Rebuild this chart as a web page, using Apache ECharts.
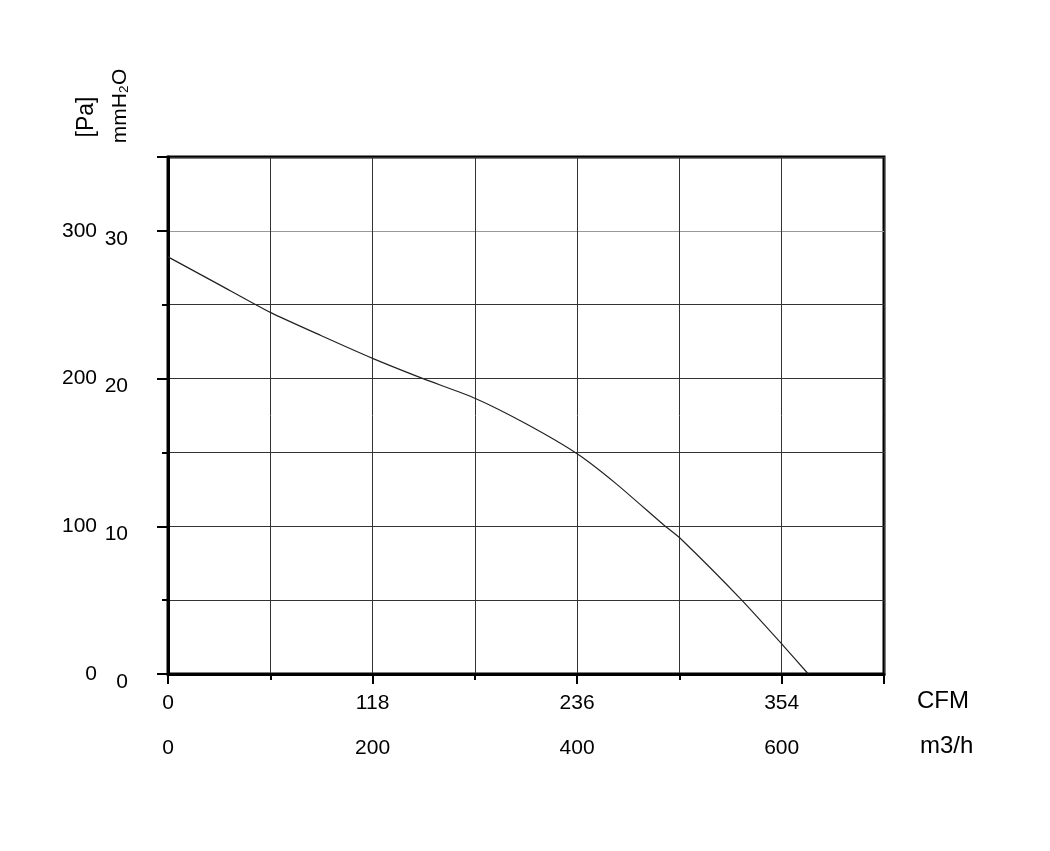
<!DOCTYPE html>
<html>
<head>
<meta charset="utf-8">
<script src="https://cdn.jsdelivr.net/npm/echarts@6/dist/echarts.min.js"></script>
<style>
html,body{margin:0;padding:0;background:#fff;}
#chart{width:1050px;height:851px;}
</style>
</head>
<body>
<div id="chart"></div>
<script>
// Airflow in m3/h and static pressure in mmH2O
var flowM3h = [0, 50, 100, 150, 200, 250, 300, 350, 400, 438, 485, 501, 560, 601, 626];
var pressureMmH2O = [28.24, 26.36, 24.48, 22.9, 21.37, 19.98, 18.67, 16.94, 14.91, 12.89, 10.07, 9.17, 5.07, 1.96, 0];

// Tick labels
var cfmLabels = ['0', '118', '236', '354'];
var m3hLabels = ['0', '200', '400', '600'];
var mmLabels = ['0', '10', '20', '30'];
var paLabels = ['0', '100', '200', '300'];

var FONT = 'Liberation Sans, Arial, Helvetica, sans-serif';
var chart = echarts.init(document.getElementById('chart'));

var points = flowM3h.map(function (f, i) { return [f, pressureMmH2O[i]]; });

function pick(arr, v, step) {
  var k = Math.round(v / step);
  return (Math.abs(v - k * step) < 1e-6 && k < arr.length) ? arr[k] : '';
}

var option = {
  backgroundColor: '#fff',
  animation: false,
  grid: {
    left: 168, right: 166, top: 157, bottom: 177,
    show: true, borderColor: '#000', borderWidth: 3, backgroundColor: 'transparent'
  },
  xAxis: [
    {
      type: 'value', min: 0, max: 700, interval: 100, position: 'bottom',
      axisLine: { show: true, onZero: false, lineStyle: { color: '#000', width: 3 } },
      axisTick: { show: true, length: 6, lineStyle: { color: '#000', width: 2 } },
      axisLabel: { show: false },
      splitLine: { show: true, lineStyle: { color: '#333', width: 1 } }
    },
    {
      type: 'value', min: 0, max: 700, interval: 200, position: 'bottom',
      axisLine: { show: false, onZero: false },
      axisTick: { show: true, length: 10, lineStyle: { color: '#000', width: 2 } },
      axisLabel: {
        show: true, margin: 19, color: '#000', fontSize: 21, fontFamily: FONT,
        formatter: function (v) { return pick(cfmLabels, v, 200); }
      },
      splitLine: { show: false }
    },
    {
      type: 'value', min: 0, max: 700, interval: 200, position: 'bottom', offset: 45,
      axisLine: { show: false, onZero: false },
      axisTick: { show: false },
      axisLabel: {
        show: true, margin: 19, color: '#000', fontSize: 21, fontFamily: FONT,
        formatter: function (v) { return pick(m3hLabels, v, 200); }
      },
      splitLine: { show: false }
    }
  ],
  yAxis: [
    {
      type: 'value', min: 0, max: 35, interval: 5, position: 'left',
      axisLine: { show: true, onZero: false, lineStyle: { color: '#000', width: 3 } },
      axisTick: { show: true, length: 6, lineStyle: { color: '#000', width: 2 } },
      axisLabel: { show: false },
      splitLine: {
        show: true,
        lineStyle: { color: ['#333', '#333', '#333', '#333', '#333', '#333', '#999', '#333'], width: 1 }
      }
    },
    {
      type: 'value', min: 0, max: 35, interval: 10, position: 'left',
      axisLine: { show: false, onZero: false },
      axisTick: { show: true, length: 11, lineStyle: { color: '#000', width: 2 } },
      axisLabel: {
        show: true, margin: 40, color: '#000', fontSize: 21, fontFamily: FONT,
        verticalAlign: 'top', lineHeight: 16,
        formatter: function (v) { return pick(mmLabels, v, 10); }
      },
      splitLine: { show: false }
    },
    {
      type: 'value', min: 0, max: 35, interval: 10, position: 'left',
      axisLine: { show: false, onZero: false },
      axisTick: { show: false },
      axisLabel: {
        show: true, margin: 71, color: '#000', fontSize: 21, fontFamily: FONT,
        formatter: function (v) { return pick(paLabels, v, 10); }
      },
      splitLine: { show: false }
    }
  ],
  graphic: [
    { type: 'text', x: 917, y: 701, style: { text: 'CFM', fontSize: 24, fontFamily: FONT, fill: '#000', textAlign: 'left', textVerticalAlign: 'middle' } },
    { type: 'text', x: 920, y: 746, style: { text: 'm3/h', fontSize: 24, fontFamily: FONT, fill: '#000', textAlign: 'left', textVerticalAlign: 'middle' } },
    { type: 'text', x: 87, y: 117, rotation: Math.PI / 2, style: { text: '[Pa]', fontSize: 23, fontFamily: FONT, fill: '#000', textAlign: 'center', textVerticalAlign: 'middle' } },
    { type: 'text', x: 120, y: 106, rotation: Math.PI / 2, style: { text: 'mmH\u2082O', fontSize: 21, fontFamily: FONT, fill: '#000', textAlign: 'center', textVerticalAlign: 'middle' } }
  ],
  series: [
    {
      type: 'line', xAxisIndex: 0, yAxisIndex: 0,
      data: points, smooth: 0.2, showSymbol: false, symbol: 'none',
      lineStyle: { color: '#222', width: 1.2 },
      silent: true
    }
  ]
};
chart.setOption(option);
</script>
</body>
</html>
